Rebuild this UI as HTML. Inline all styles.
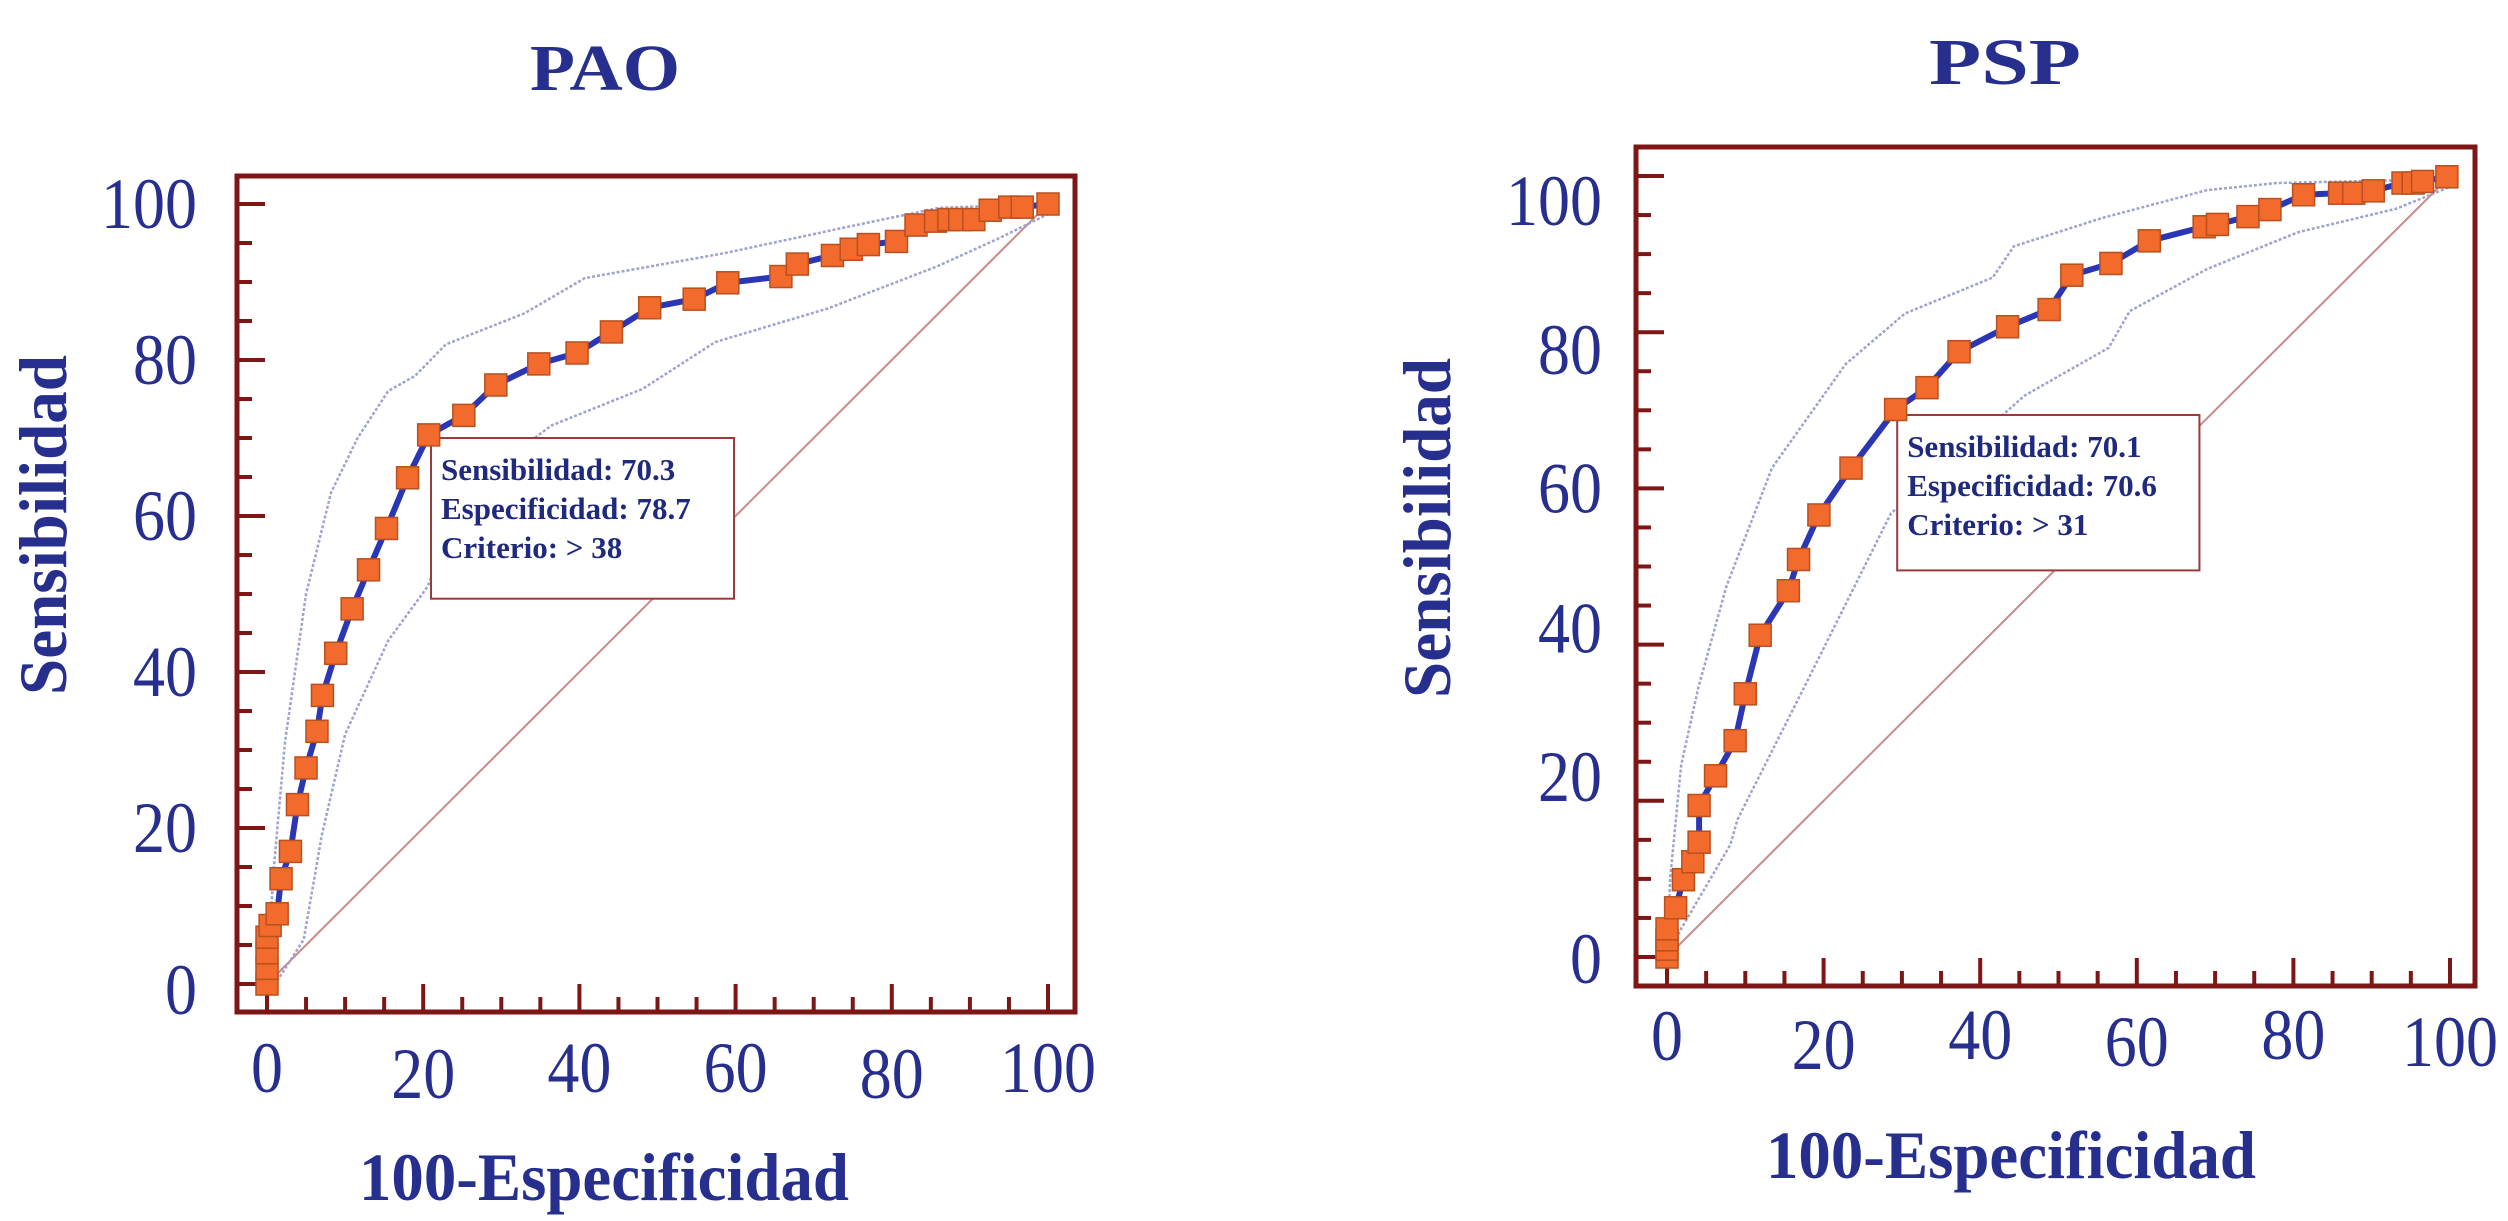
<!DOCTYPE html>
<html>
<head>
<meta charset="utf-8">
<style>
  html, body { margin: 0; padding: 0; background: #ffffff; }
  svg { display: block; }
  text { font-family: "Liberation Serif", serif; }
</style>
</head>
<body>
<svg id="fig" width="2508" height="1221" viewBox="0 0 2508 1221" xmlns="http://www.w3.org/2000/svg"></svg>
<script>
// ---------- PAO data ----------
const paoFpr = [0,0,0,0,0.4,1.3,1.8,3,3.9,5,6.4,7.1,8.8,10.9,13,15.3,18,20.7,25.2,29.3,34.8,39.7,44.1,49,54.7,59,65.8,67.9,72.4,74.8,77,80.6,83.1,85.6,87.3,88.7,90.5,92.6,95.1,96.7,100];
const paoSens = [0,2,4,6,7.5,9,13.5,17,23,27.7,32.4,37,42.4,48.1,53.1,58.4,64.9,70.4,72.9,76.8,79.5,80.9,83.6,86.7,87.8,89.9,90.7,92.3,93.4,94.2,94.8,95.2,97.3,97.8,98,98,98,99.2,99.6,99.6,100];
const paoUpperX = [0,0.8,2.3,5,8.2,11.6,15.5,19,22.9,33,40.7,58.6,74,86,100];
const paoUpperY = [0,14,31,50,63,70,76,78,82,86,90.5,93.7,97,99.5,100];
const paoLowerX = [0,1.5,4.7,7,10,15.5,20.6,25,36.4,48.1,57.4,71.8,85.8,93.5,100];
const paoLowerY = [0,0.7,5.7,19,32,44,51,63,71.6,76.3,82.3,86.6,92,95.5,98.7];
const paoNotes = ["Sensibilidad: 70.3", "Especificidad: 78.7", "Criterio: > 38"];

// ---------- PSP data ----------
const pspFpr = [0,0,0,0,1.1,2.1,3.3,4.1,4.1,6.2,8.7,10,11.9,15.5,16.8,19.4,23.5,29.2,33.2,37.3,43.5,48.8,51.7,56.7,61.6,68.6,70.3,74.2,77,81.3,85.9,87.7,90.2,94,95.3,96.5,99.6];
const pspSens = [0,1,2.2,3.6,6.3,9.9,12.2,14.7,19.4,23.2,27.7,33.7,41.2,46.9,50.9,56.6,62.6,70.1,72.9,77.5,80.7,82.9,87.3,88.8,91.7,93.5,93.8,94.8,95.7,97.6,97.8,97.8,98.1,99.1,99.1,99.3,99.9];
const pspUpperX = [0,0.4,1.8,4,7.6,13.4,22.8,30.4,41.6,44.3,55.5,69,77.9,100];
const pspUpperY = [0,10,24.5,34.5,47.5,62.6,75.9,82.4,87,91,94.6,98.2,99.1,99.6];
const pspLowerX = [0,1.8,8.1,9,17.9,28.6,45.7,56.4,59.1,69,80.6,93.1,100];
const pspLowerY = [0,3.6,14.4,17.6,35.3,56.8,71.9,78,82.7,88.1,92.8,95.8,98.6];
const pspNotes = ["Sensibilidad: 70.1", "Especificidad: 70.6", "Criterio: > 31"];

// ---------- shared ticks ----------
const tickValues = [0,20,40,60,80,100];
const tickLabels = ["0","20","40","60","80","100"];
const minorTicks = [5,10,15,25,30,35,45,50,55,65,70,75,85,90,95];

const NS = "http://www.w3.org/2000/svg";
const svg = document.getElementById("fig");
function mk(tag, attrs, parent) {
  const e = document.createElementNS(NS, tag);
  for (const k in attrs) e.setAttribute(k, attrs[k]);
  (parent || svg).appendChild(e);
  return e;
}

function drawChart(c) {
  const g = mk("g", {});
  
  
  const sx = v => c.x0 + (c.x100 - c.x0) * v / 100;
  const sy = v => c.y0 + (c.y100 - c.y0) * v / 100;
  const navy = "#262e8e";
  const axisRed = "#7e1616";

  // title
  const t = mk("text", {x: c.titleX, y: c.titleY, "text-anchor": "middle", "font-size": 66, "font-weight": "bold", fill: navy, textLength: c.titleW, lengthAdjust: "spacingAndGlyphs"}, g);
  t.textContent = c.title;
  
  

  // plot frame
  const frame = mk("rect", {x: c.boxL, y: c.boxT, width: c.boxR - c.boxL, height: c.boxB - c.boxT, fill: "none", stroke: axisRed, "stroke-width": 5}, g);
  
  

  // ticks
  const tg = mk("g", {stroke: axisRed, "stroke-width": 4}, g);
  
  
  tickValues.forEach(v => {
    mk("line", {x1: c.boxL, x2: c.boxL + 28, y1: sy(v), y2: sy(v)}, tg);
    mk("line", {x1: sx(v), x2: sx(v), y1: c.boxB, y2: c.boxB - 28}, tg);
  });
  minorTicks.forEach(v => {
    mk("line", {x1: c.boxL, x2: c.boxL + 15, y1: sy(v), y2: sy(v)}, tg);
    mk("line", {x1: sx(v), x2: sx(v), y1: c.boxB, y2: c.boxB - 15}, tg);
  });

  // tick labels
  tickValues.forEach((v, i) => {
    const lab = tickLabels[i];
    const w = lab.length * 32;
    const yl = mk("text", {x: c.yLabRight, y: sy(v) + 24 + c.yNudge[i], "text-anchor": "end", "font-size": 72, fill: navy, textLength: w, lengthAdjust: "spacingAndGlyphs"}, g);
    yl.textContent = lab;
    
    
    const xl = mk("text", {x: sx(v), y: c.xLabY + c.xNudge[i], "text-anchor": "middle", "font-size": 72, fill: navy, textLength: w, lengthAdjust: "spacingAndGlyphs"}, g);
    xl.textContent = lab;
    
    
  });

  // axis titles
  const xt = mk("text", {x: c.xTitleX, y: c.xTitleY, "text-anchor": "middle", "font-size": 68, "font-weight": "bold", fill: navy, textLength: 490, lengthAdjust: "spacingAndGlyphs"}, g);
  xt.textContent = "100-Especificidad";
  
  
  const yt = mk("text", {x: 0, y: 0, transform: `translate(${c.yTitleX},${c.yTitleY}) rotate(-90)`, "text-anchor": "middle", "font-size": 68, "font-weight": "bold", fill: navy, textLength: 340, lengthAdjust: "spacingAndGlyphs"}, g);
  yt.textContent = "Sensibilidad";
  
  

  // diagonal reference
  const diag = mk("line", {x1: sx(0), y1: sy(0), x2: sx(100), y2: sy(100), stroke: "#c98a8a", "stroke-width": 2}, g);
  
  

  // confidence bands
  const band = (xs, ys, name) => {
    const p = mk("polyline", {points: xs.map((x, i) => sx(x) + "," + sy(ys[i])).join(" "), fill: "none", stroke: "#9ea3cf", "stroke-width": 2.5, "stroke-dasharray": "3 2"}, g);
    
    
  };
  band(c.upX, c.upY, 'upper-confidence-band');
  band(c.loX, c.loY, 'lower-confidence-band');

  // annotation box
  const ab = mk("rect", {x: sx(c.noteX0), y: sy(c.noteY0), width: sx(c.noteX1) - sx(c.noteX0), height: sy(c.noteY1) - sy(c.noteY0), fill: "#ffffff", stroke: "#9a3a3a", "stroke-width": 2}, g);
  
  
  c.notes.forEach((n, i) => {
    const nt = mk("text", {x: sx(c.noteX0) + 10, y: sy(c.noteY0) + 42 + i * 39, "font-size": 31, "font-weight": "bold", fill: "#1f2a7e"}, g);
    nt.textContent = n;
    
    
  });

  // ROC curve
  const curve = mk("polyline", {points: c.fx.map((x, i) => sx(x) + "," + sy(c.fy[i])).join(" "), fill: "none", stroke: "#2b36b4", "stroke-width": 6, "stroke-linejoin": "round"}, g);
  
  

  // markers
  const s = 22;
  c.fx.forEach((x, i) => {
    const m = mk("rect", {x: sx(x) - s / 2, y: sy(c.fy[i]) - s / 2, width: s, height: s, fill: "#f26a2c", stroke: "#b8501f", "stroke-width": 1.5}, g);
    
    
  });
}

drawChart({
  prefix: "pao", title: "PAO", titleX: 605, titleY: 90, titleW: 150,
  x0: 267, x100: 1048, y0: 984, y100: 204,
  boxL: 237, boxR: 1075, boxT: 176, boxB: 1012,
  yLabRight: 197, yNudge: [6, 0, 0, 0, 0, 0],
  xLabY: 1092, xNudge: [0, 6, 0, 0, 6, 0],
  xTitleX: 604, xTitleY: 1200, yTitleX: 66, yTitleY: 525,
  fx: paoFpr, fy: paoSens, upX: paoUpperX, upY: paoUpperY, loX: paoLowerX, loY: paoLowerY,
  noteX0: 21, noteX1: 59.8, noteY0: 70, noteY1: 49.4, notes: paoNotes
});

drawChart({
  prefix: "psp", title: "PSP", titleX: 2005, titleY: 84, titleW: 152,
  x0: 1667, x100: 2450, y0: 957, y100: 176,
  boxL: 1636, boxR: 2475, boxT: 147, boxB: 986,
  yLabRight: 1602, yNudge: [2, -24, -16, 0, 18, 25],
  xLabY: 1060, xNudge: [0, 9, -1, 6, -1, 6],
  xTitleX: 2011, xTitleY: 1178, yTitleX: 1450, yTitleY: 528,
  fx: pspFpr, fy: pspSens, upX: pspUpperX, upY: pspUpperY, loX: pspLowerX, loY: pspLowerY,
  noteX0: 29.4, noteX1: 68, noteY0: 69.4, noteY1: 49.5, notes: pspNotes
});
</script>
</body>
</html>
